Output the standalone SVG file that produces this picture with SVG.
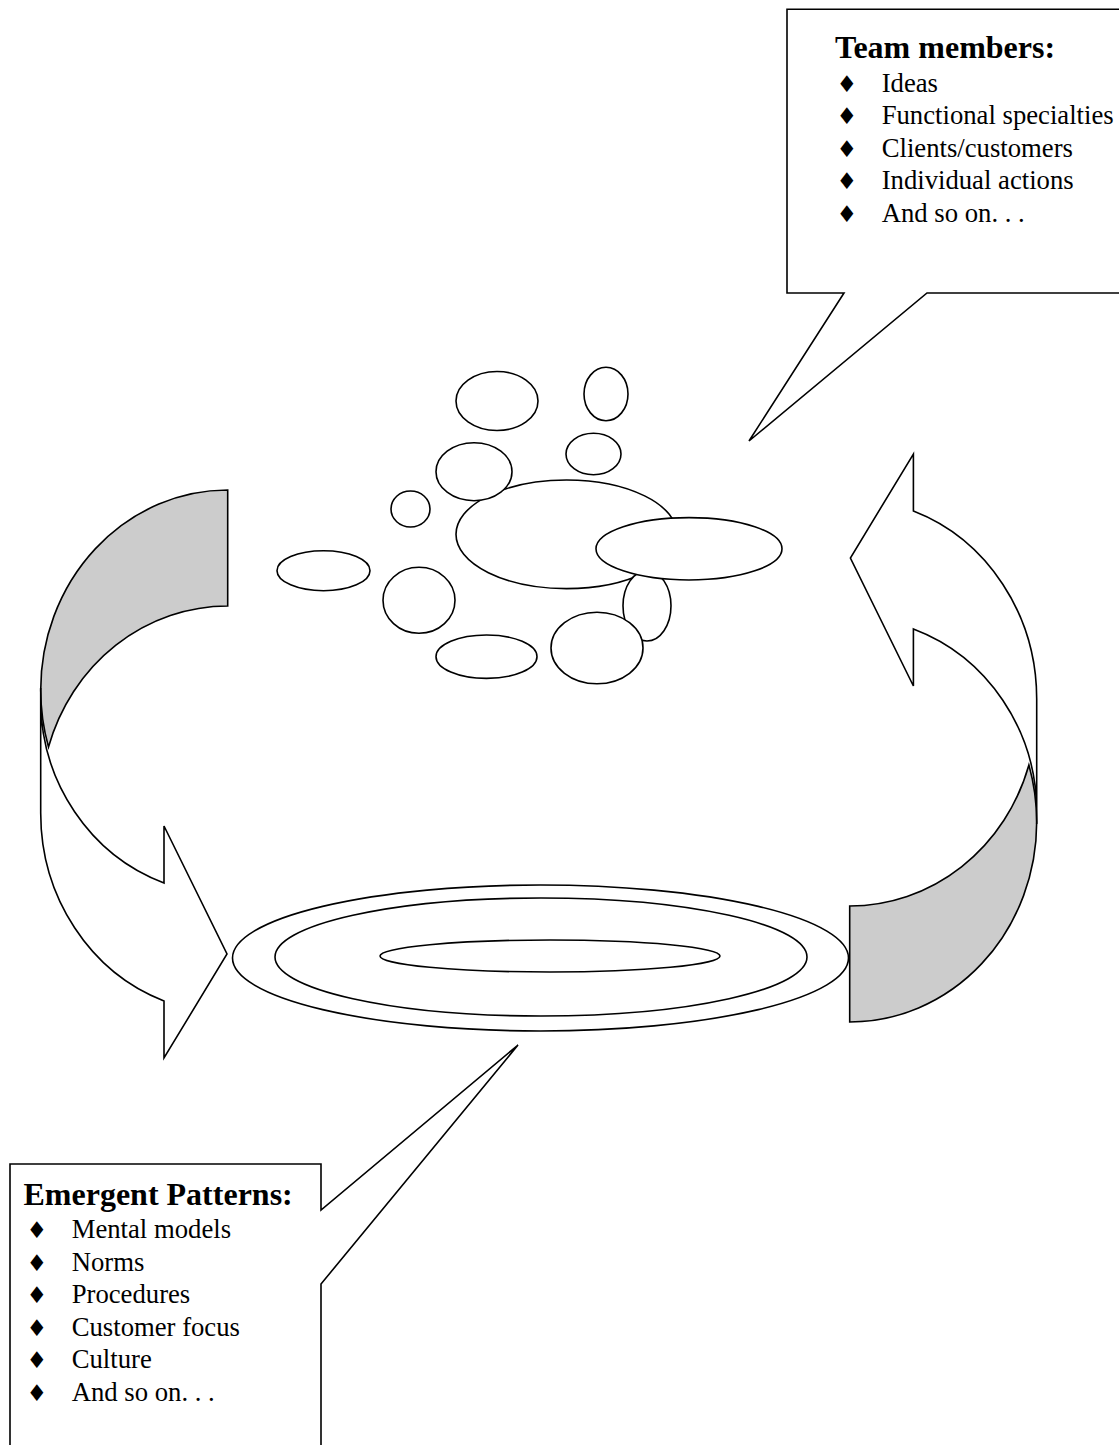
<svg xmlns="http://www.w3.org/2000/svg" width="1119" height="1445" viewBox="0 0 1119 1445">
<style>
.ln{fill:#fff;stroke:#000;stroke-width:1.6;stroke-linejoin:miter}
.gr{fill:#ccc;stroke:#000;stroke-width:1.6}
.ttl{font-family:"Liberation Serif","Times New Roman",serif;font-weight:bold;font-size:32px;fill:#000}
.itm{font-family:"Liberation Serif","Times New Roman",serif;font-size:26.7px;fill:#000}
.bul{font-family:"DejaVu Sans",sans-serif;font-size:23px;fill:#000}
</style>
<rect width="1119" height="1445" fill="#fff"/>
<g id="connectors">
<g id="arrow-left">
<path class="gr" d="M227.7,490 A187,200 0 0 0 40.7,690 A187,200 0 0 0 48.5,747 A187,197 0 0 1 227.7,606 Z"/>
<path class="ln" d="M40.7,688 L40.7,700 A187,194.6 0 0 0 164,883 L164,826 L227,954 L164,1058 L164,1001 A187,200 0 0 1 40.7,813 Z"/>
</g>
<g id="arrow-right" transform="rotate(180 538.7 756)">
<path class="gr" d="M227.7,490 A187,200 0 0 0 40.7,690 A187,200 0 0 0 48.5,747 A187,197 0 0 1 227.7,606 Z"/>
<path class="ln" d="M40.7,688 L40.7,700 A187,194.6 0 0 0 164,883 L164,826 L227,954 L164,1058 L164,1001 A187,200 0 0 1 40.7,813 Z"/>
</g>
</g>
<g id="rings">
<ellipse class="ln" cx="540.5" cy="958" rx="308" ry="73"/>
<ellipse class="ln" cx="541" cy="957" rx="266" ry="59"/>
<ellipse class="ln" cx="550" cy="956" rx="170" ry="16"/>
</g>
<g id="members">
<ellipse class="ln" cx="323.5" cy="570.7" rx="46.5" ry="20"/>
<ellipse class="ln" cx="419" cy="600.3" rx="36" ry="33"/>
<ellipse class="ln" cx="486.5" cy="656.7" rx="50.5" ry="21.7"/>
<ellipse class="ln" cx="497" cy="401" rx="41" ry="29.5"/>
<ellipse class="ln" cx="606" cy="394" rx="22" ry="26.7"/>
<ellipse class="ln" cx="593.5" cy="454" rx="27.5" ry="20.8"/>
<ellipse class="ln" cx="410.5" cy="509" rx="19.5" ry="18"/>
<ellipse class="ln" cx="566.5" cy="534.3" rx="110.5" ry="54.3"/>
<ellipse class="ln" cx="474" cy="471.7" rx="38" ry="29"/>
<ellipse class="ln" cx="647" cy="605.8" rx="24" ry="35.2"/>
<ellipse class="ln" cx="689" cy="548.8" rx="93" ry="31.2"/>
<ellipse class="ln" cx="597" cy="648" rx="46" ry="35.8"/>
</g>
<g id="callout-team">
<path class="ln" d="M1125,9.3 H787 V293 H844 L749,441 L927,293 H1125"/>
<text class="ttl" x="835" y="58.3">Team members:</text>
<g class="bul"><text x="836.5" y="91.5">♦</text><text x="836.5" y="124">♦</text><text x="836.5" y="156.5">♦</text><text x="836.5" y="189">♦</text><text x="836.5" y="221.5">♦</text></g>
<text class="itm" x="881.7" y="91.5">Ideas</text>
<text class="itm" x="881.7" y="124">Functional specialties</text>
<text class="itm" x="881.7" y="156.5">Clients/customers</text>
<text class="itm" x="881.7" y="189">Individual actions</text>
<text class="itm" x="881.7" y="221.5">And so on. . .</text>
</g>
<g id="callout-patterns">
<path class="ln" d="M10,1450 V1164 H321 V1210 L518,1045 L321,1284 V1450"/>
<text class="ttl" x="23.5" y="1205">Emergent Patterns:</text>
<g class="bul"><text x="26.5" y="1238">♦</text><text x="26.5" y="1270.5">♦</text><text x="26.5" y="1303">♦</text><text x="26.5" y="1335.5">♦</text><text x="26.5" y="1368">♦</text><text x="26.5" y="1400.5">♦</text></g>
<text class="itm" x="71.7" y="1238">Mental models</text>
<text class="itm" x="71.7" y="1270.5">Norms</text>
<text class="itm" x="71.7" y="1303">Procedures</text>
<text class="itm" x="71.7" y="1335.5">Customer focus</text>
<text class="itm" x="71.7" y="1368">Culture</text>
<text class="itm" x="71.7" y="1400.5">And so on. . .</text>
</g>
</svg>
